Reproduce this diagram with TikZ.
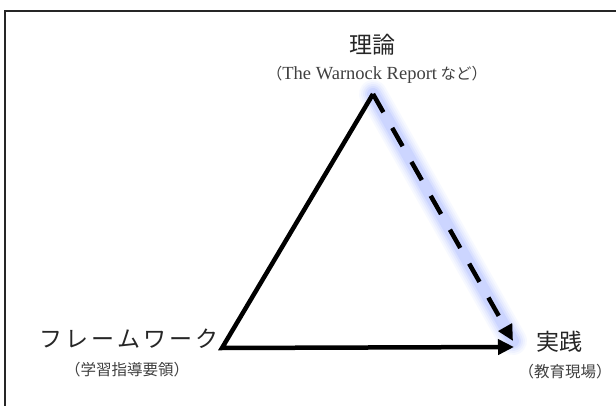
\documentclass[tikz,border=0pt]{standalone}
\usepackage{fontspec}
\usetikzlibrary{arrows.meta}
\newfontfamily\jp{Noto Sans CJK JP}
\newfontfamily\lat{Liberation Serif}
\definecolor{glow}{rgb}{0.45,0.55,1.0}
\tikzset{
  title/.style={font=\jp\fontsize{23}{26}\selectfont, inner sep=0pt, text=black!85},
  sub/.style={font=\jp\fontsize{15.5}{18}\selectfont, inner sep=0pt, text=black!75},
  edge/.style={line width=4.5pt, black},
  tip/.style={-{Triangle[length=16pt,width=15pt]}},
  frame/.style={line width=2pt, black!85}
}
\begin{document}
\begin{tikzpicture}[x=1pt,y=-1pt]
\useasboundingbox (0,0) rectangle (616,406);
\fill[white] (0,0) rectangle (616,406);
% frame
\coordinate (FR) at (616,11);
\coordinate (FC) at (5,11);
\coordinate (FB) at (5,406);
\draw[frame] (FR) -- (FC) -- (FB);
% vertices
\coordinate (T) at (373,94);
\coordinate (L) at (222,348);
\coordinate (R) at (514,347);
\coordinate (D) at (513,341);
% glow under dashed edge
\foreach \w/\o in {28/0.05,24/0.06,20/0.08,16/0.10,12/0.12}{
  \draw[glow, line width=\w pt, opacity=\o, line cap=round] (T) -- (D);
}
% edges
\draw[edge, line join=miter, tip] (T) -- (L) -- (R);
\draw[edge, tip, dash pattern=on 21pt off 18pt] (T) -- (D);
% labels
\node[title] (theory) at (372,45) {理論};
\node[sub, anchor=center] (theorysub) at (377,75) {（{\lat\fontsize{18.5}{20}\selectfont The Warnock Report} など）};
\node[title, anchor=east] (fw) at (219,339) {フ\hspace{3pt}レ\hspace{3pt}ー\hspace{3pt}ム\hspace{3pt}ワ\hspace{3pt}ー\hspace{3pt}ク};
\node[sub] (fwsub) at (127,370) {（学習指導要領）};
\node[title] (prac) at (559,342) {実践};
\node[sub] (pracsub) at (565,372) {（教育現場）};
\end{tikzpicture}
\end{document}
